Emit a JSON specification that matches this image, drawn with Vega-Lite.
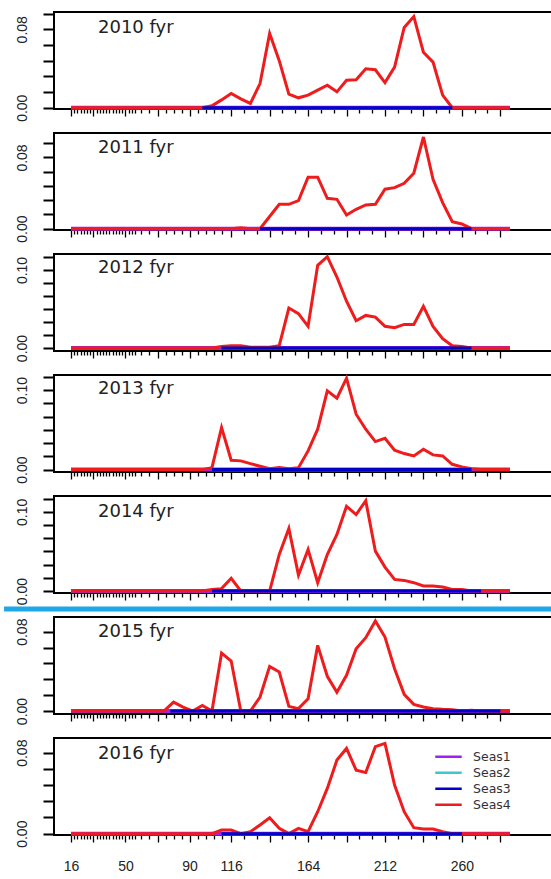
{
"$schema": "https://vega.github.io/schema/vega-lite/v6.json",
"padding": {"left": 0, "top": 9, "right": 0, "bottom": 5},
"background": "white",
"config": {"font": "Liberation Sans", "view": {"stroke": "#000", "strokeWidth": 2}, "axis": {"domain": false, "grid": false, "title": null},
 "title": {"anchor": "start", "offset": -26, "dx": 44, "fontSize": 18, "font": "DejaVu Sans", "fontWeight": "normal", "color": "#222", "baseline": "middle", "frame": "group"}},
"spacing": 24,
"bounds": "flush",
"resolve": {"scale": {"y": "independent"}, "legend": {"color": "independent"}},
"datasets": {
"d": [
{"year":2010,"seas":"Seas1","len":16,"val":0},{"year":2010,"seas":"Seas1","len":290,"val":0},
{"year":2011,"seas":"Seas1","len":16,"val":0},{"year":2011,"seas":"Seas1","len":290,"val":0},
{"year":2012,"seas":"Seas1","len":16,"val":0},{"year":2012,"seas":"Seas1","len":290,"val":0},
{"year":2013,"seas":"Seas1","len":16,"val":0},{"year":2013,"seas":"Seas1","len":290,"val":0},
{"year":2014,"seas":"Seas1","len":16,"val":0},{"year":2014,"seas":"Seas1","len":290,"val":0},
{"year":2015,"seas":"Seas1","len":16,"val":0},{"year":2015,"seas":"Seas1","len":290,"val":0},
{"year":2016,"seas":"Seas1","len":16,"val":0},{"year":2016,"seas":"Seas1","len":290,"val":0},
{"year":2010,"seas":"Seas3","len":98,"val":0},{"year":2010,"seas":"Seas3","len":254,"val":0},
{"year":2011,"seas":"Seas3","len":134,"val":0},{"year":2011,"seas":"Seas3","len":266,"val":0},
{"year":2012,"seas":"Seas3","len":110,"val":0},{"year":2012,"seas":"Seas3","len":266,"val":0},
{"year":2013,"seas":"Seas3","len":104,"val":0},{"year":2013,"seas":"Seas3","len":266,"val":0},
{"year":2014,"seas":"Seas3","len":104,"val":0},{"year":2014,"seas":"Seas3","len":272,"val":0},
{"year":2015,"seas":"Seas3","len":78,"val":0},{"year":2015,"seas":"Seas3","len":284,"val":0},
{"year":2016,"seas":"Seas3","len":110,"val":0},{"year":2016,"seas":"Seas3","len":260,"val":0},
{"year":2010,"seas":"Seas4","len":16,"val":0},{"year":2010,"seas":"Seas4","len":98,"val":0},{"year":2010,"seas":"Seas4","len":104,"val":0.002},{"year":2010,"seas":"Seas4","len":110,"val":0.008},{"year":2010,"seas":"Seas4","len":116,"val":0.0145},{"year":2010,"seas":"Seas4","len":122,"val":0.009},{"year":2010,"seas":"Seas4","len":128,"val":0.0044},{"year":2010,"seas":"Seas4","len":134,"val":0.0246},{"year":2010,"seas":"Seas4","len":140,"val":0.0758},{"year":2010,"seas":"Seas4","len":146,"val":0.048},{"year":2010,"seas":"Seas4","len":152,"val":0.0138},{"year":2010,"seas":"Seas4","len":158,"val":0.0101},{"year":2010,"seas":"Seas4","len":164,"val":0.0128},{"year":2010,"seas":"Seas4","len":170,"val":0.0179},{"year":2010,"seas":"Seas4","len":176,"val":0.0229},{"year":2010,"seas":"Seas4","len":182,"val":0.0162},{"year":2010,"seas":"Seas4","len":188,"val":0.028},{"year":2010,"seas":"Seas4","len":194,"val":0.0286},{"year":2010,"seas":"Seas4","len":200,"val":0.0397},{"year":2010,"seas":"Seas4","len":206,"val":0.0387},{"year":2010,"seas":"Seas4","len":212,"val":0.0256},{"year":2010,"seas":"Seas4","len":218,"val":0.0414},{"year":2010,"seas":"Seas4","len":224,"val":0.0819},{"year":2010,"seas":"Seas4","len":230,"val":0.093},{"year":2010,"seas":"Seas4","len":236,"val":0.0566},{"year":2010,"seas":"Seas4","len":242,"val":0.0465},{"year":2010,"seas":"Seas4","len":248,"val":0.0128},{"year":2010,"seas":"Seas4","len":254,"val":0},{"year":2010,"seas":"Seas4","len":290,"val":0},
{"year":2011,"seas":"Seas4","len":16,"val":0},{"year":2011,"seas":"Seas4","len":116,"val":0},{"year":2011,"seas":"Seas4","len":122,"val":0.001},{"year":2011,"seas":"Seas4","len":128,"val":0},{"year":2011,"seas":"Seas4","len":134,"val":0},{"year":2011,"seas":"Seas4","len":140,"val":0.0137},{"year":2011,"seas":"Seas4","len":146,"val":0.0274},{"year":2011,"seas":"Seas4","len":152,"val":0.0274},{"year":2011,"seas":"Seas4","len":158,"val":0.0315},{"year":2011,"seas":"Seas4","len":164,"val":0.0578},{"year":2011,"seas":"Seas4","len":170,"val":0.0578},{"year":2011,"seas":"Seas4","len":176,"val":0.0341},{"year":2011,"seas":"Seas4","len":182,"val":0.033},{"year":2011,"seas":"Seas4","len":188,"val":0.0154},{"year":2011,"seas":"Seas4","len":194,"val":0.0218},{"year":2011,"seas":"Seas4","len":200,"val":0.0266},{"year":2011,"seas":"Seas4","len":206,"val":0.0274},{"year":2011,"seas":"Seas4","len":212,"val":0.0443},{"year":2011,"seas":"Seas4","len":218,"val":0.0461},{"year":2011,"seas":"Seas4","len":224,"val":0.051},{"year":2011,"seas":"Seas4","len":230,"val":0.0623},{"year":2011,"seas":"Seas4","len":236,"val":0.103},{"year":2011,"seas":"Seas4","len":242,"val":0.0555},{"year":2011,"seas":"Seas4","len":248,"val":0.0293},{"year":2011,"seas":"Seas4","len":254,"val":0.0079},{"year":2011,"seas":"Seas4","len":260,"val":0.0053},{"year":2011,"seas":"Seas4","len":266,"val":0},{"year":2011,"seas":"Seas4","len":290,"val":0},
{"year":2012,"seas":"Seas4","len":16,"val":0},{"year":2012,"seas":"Seas4","len":104,"val":0},{"year":2012,"seas":"Seas4","len":110,"val":0.002},{"year":2012,"seas":"Seas4","len":116,"val":0.003},{"year":2012,"seas":"Seas4","len":122,"val":0.003},{"year":2012,"seas":"Seas4","len":128,"val":0.001},{"year":2012,"seas":"Seas4","len":134,"val":0.001},{"year":2012,"seas":"Seas4","len":140,"val":0.001},{"year":2012,"seas":"Seas4","len":146,"val":0.003},{"year":2012,"seas":"Seas4","len":152,"val":0.0512},{"year":2012,"seas":"Seas4","len":158,"val":0.044},{"year":2012,"seas":"Seas4","len":164,"val":0.0278},{"year":2012,"seas":"Seas4","len":170,"val":0.106},{"year":2012,"seas":"Seas4","len":176,"val":0.117},{"year":2012,"seas":"Seas4","len":182,"val":0.091},{"year":2012,"seas":"Seas4","len":188,"val":0.06},{"year":2012,"seas":"Seas4","len":194,"val":0.035},{"year":2012,"seas":"Seas4","len":200,"val":0.0418},{"year":2012,"seas":"Seas4","len":206,"val":0.0397},{"year":2012,"seas":"Seas4","len":212,"val":0.0278},{"year":2012,"seas":"Seas4","len":218,"val":0.026},{"year":2012,"seas":"Seas4","len":224,"val":0.0303},{"year":2012,"seas":"Seas4","len":230,"val":0.0303},{"year":2012,"seas":"Seas4","len":236,"val":0.0534},{"year":2012,"seas":"Seas4","len":242,"val":0.0278},{"year":2012,"seas":"Seas4","len":248,"val":0.012},{"year":2012,"seas":"Seas4","len":254,"val":0.003},{"year":2012,"seas":"Seas4","len":260,"val":0.002},{"year":2012,"seas":"Seas4","len":266,"val":0},{"year":2012,"seas":"Seas4","len":290,"val":0},
{"year":2013,"seas":"Seas4","len":16,"val":0},{"year":2013,"seas":"Seas4","len":98,"val":0},{"year":2013,"seas":"Seas4","len":104,"val":0.0025},{"year":2013,"seas":"Seas4","len":110,"val":0.053},{"year":2013,"seas":"Seas4","len":116,"val":0.0118},{"year":2013,"seas":"Seas4","len":122,"val":0.011},{"year":2013,"seas":"Seas4","len":128,"val":0.0076},{"year":2013,"seas":"Seas4","len":134,"val":0.0042},{"year":2013,"seas":"Seas4","len":140,"val":0.001},{"year":2013,"seas":"Seas4","len":146,"val":0.0025},{"year":2013,"seas":"Seas4","len":152,"val":0.001},{"year":2013,"seas":"Seas4","len":158,"val":0.0025},{"year":2013,"seas":"Seas4","len":164,"val":0.0235},{"year":2013,"seas":"Seas4","len":170,"val":0.0508},{"year":2013,"seas":"Seas4","len":176,"val":0.099},{"year":2013,"seas":"Seas4","len":182,"val":0.0899},{"year":2013,"seas":"Seas4","len":188,"val":0.115},{"year":2013,"seas":"Seas4","len":194,"val":0.0697},{"year":2013,"seas":"Seas4","len":200,"val":0.0508},{"year":2013,"seas":"Seas4","len":206,"val":0.0353},{"year":2013,"seas":"Seas4","len":212,"val":0.0395},{"year":2013,"seas":"Seas4","len":218,"val":0.0244},{"year":2013,"seas":"Seas4","len":224,"val":0.0202},{"year":2013,"seas":"Seas4","len":230,"val":0.0172},{"year":2013,"seas":"Seas4","len":236,"val":0.0256},{"year":2013,"seas":"Seas4","len":242,"val":0.0185},{"year":2013,"seas":"Seas4","len":248,"val":0.0172},{"year":2013,"seas":"Seas4","len":254,"val":0.0067},{"year":2013,"seas":"Seas4","len":260,"val":0.0034},{"year":2013,"seas":"Seas4","len":266,"val":0.001},{"year":2013,"seas":"Seas4","len":272,"val":0},{"year":2013,"seas":"Seas4","len":290,"val":0},
{"year":2014,"seas":"Seas4","len":16,"val":0},{"year":2014,"seas":"Seas4","len":98,"val":0},{"year":2014,"seas":"Seas4","len":104,"val":0.002},{"year":2014,"seas":"Seas4","len":110,"val":0.003},{"year":2014,"seas":"Seas4","len":116,"val":0.016},{"year":2014,"seas":"Seas4","len":122,"val":0},{"year":2014,"seas":"Seas4","len":140,"val":0},{"year":2014,"seas":"Seas4","len":146,"val":0.0462},{"year":2014,"seas":"Seas4","len":152,"val":0.079},{"year":2014,"seas":"Seas4","len":158,"val":0.0202},{"year":2014,"seas":"Seas4","len":164,"val":0.0525},{"year":2014,"seas":"Seas4","len":170,"val":0.0105},{"year":2014,"seas":"Seas4","len":176,"val":0.046},{"year":2014,"seas":"Seas4","len":182,"val":0.0714},{"year":2014,"seas":"Seas4","len":188,"val":0.107},{"year":2014,"seas":"Seas4","len":194,"val":0.0966},{"year":2014,"seas":"Seas4","len":200,"val":0.114},{"year":2014,"seas":"Seas4","len":206,"val":0.0504},{"year":2014,"seas":"Seas4","len":212,"val":0.0302},{"year":2014,"seas":"Seas4","len":218,"val":0.0147},{"year":2014,"seas":"Seas4","len":224,"val":0.0134},{"year":2014,"seas":"Seas4","len":230,"val":0.0105},{"year":2014,"seas":"Seas4","len":236,"val":0.0063},{"year":2014,"seas":"Seas4","len":242,"val":0.0063},{"year":2014,"seas":"Seas4","len":248,"val":0.005},{"year":2014,"seas":"Seas4","len":254,"val":0.002},{"year":2014,"seas":"Seas4","len":260,"val":0.002},{"year":2014,"seas":"Seas4","len":266,"val":0},{"year":2014,"seas":"Seas4","len":290,"val":0},
{"year":2015,"seas":"Seas4","len":16,"val":0},{"year":2015,"seas":"Seas4","len":74,"val":0},{"year":2015,"seas":"Seas4","len":80,"val":0.009},{"year":2015,"seas":"Seas4","len":86,"val":0.004},{"year":2015,"seas":"Seas4","len":92,"val":0},{"year":2015,"seas":"Seas4","len":98,"val":0.0057},{"year":2015,"seas":"Seas4","len":104,"val":0},{"year":2015,"seas":"Seas4","len":110,"val":0.0585},{"year":2015,"seas":"Seas4","len":116,"val":0.0504},{"year":2015,"seas":"Seas4","len":122,"val":0},{"year":2015,"seas":"Seas4","len":128,"val":0},{"year":2015,"seas":"Seas4","len":134,"val":0.0141},{"year":2015,"seas":"Seas4","len":140,"val":0.045},{"year":2015,"seas":"Seas4","len":146,"val":0.0393},{"year":2015,"seas":"Seas4","len":152,"val":0.0047},{"year":2015,"seas":"Seas4","len":158,"val":0.0024},{"year":2015,"seas":"Seas4","len":164,"val":0.0124},{"year":2015,"seas":"Seas4","len":170,"val":0.0662},{"year":2015,"seas":"Seas4","len":176,"val":0.035},{"year":2015,"seas":"Seas4","len":182,"val":0.019},{"year":2015,"seas":"Seas4","len":188,"val":0.036},{"year":2015,"seas":"Seas4","len":194,"val":0.0628},{"year":2015,"seas":"Seas4","len":200,"val":0.0739},{"year":2015,"seas":"Seas4","len":206,"val":0.0907},{"year":2015,"seas":"Seas4","len":212,"val":0.0746},{"year":2015,"seas":"Seas4","len":218,"val":0.0427},{"year":2015,"seas":"Seas4","len":224,"val":0.0168},{"year":2015,"seas":"Seas4","len":230,"val":0.0067},{"year":2015,"seas":"Seas4","len":236,"val":0.004},{"year":2015,"seas":"Seas4","len":242,"val":0.0024},{"year":2015,"seas":"Seas4","len":248,"val":0.0017},{"year":2015,"seas":"Seas4","len":254,"val":0.0013},{"year":2015,"seas":"Seas4","len":260,"val":0},{"year":2015,"seas":"Seas4","len":266,"val":0.0007},{"year":2015,"seas":"Seas4","len":272,"val":0},{"year":2015,"seas":"Seas4","len":290,"val":0},
{"year":2016,"seas":"Seas4","len":16,"val":0},{"year":2016,"seas":"Seas4","len":104,"val":0},{"year":2016,"seas":"Seas4","len":110,"val":0.0036},{"year":2016,"seas":"Seas4","len":116,"val":0.0036},{"year":2016,"seas":"Seas4","len":122,"val":0},{"year":2016,"seas":"Seas4","len":128,"val":0.002},{"year":2016,"seas":"Seas4","len":134,"val":0.0086},{"year":2016,"seas":"Seas4","len":140,"val":0.0158},{"year":2016,"seas":"Seas4","len":146,"val":0.0053},{"year":2016,"seas":"Seas4","len":152,"val":0},{"year":2016,"seas":"Seas4","len":158,"val":0.0053},{"year":2016,"seas":"Seas4","len":164,"val":0.002},{"year":2016,"seas":"Seas4","len":170,"val":0.0217},{"year":2016,"seas":"Seas4","len":176,"val":0.0447},{"year":2016,"seas":"Seas4","len":182,"val":0.0727},{"year":2016,"seas":"Seas4","len":188,"val":0.0842},{"year":2016,"seas":"Seas4","len":194,"val":0.0628},{"year":2016,"seas":"Seas4","len":200,"val":0.0605},{"year":2016,"seas":"Seas4","len":206,"val":0.0859},{"year":2016,"seas":"Seas4","len":212,"val":0.0892},{"year":2016,"seas":"Seas4","len":218,"val":0.048},{"year":2016,"seas":"Seas4","len":224,"val":0.0217},{"year":2016,"seas":"Seas4","len":230,"val":0.0059},{"year":2016,"seas":"Seas4","len":236,"val":0.0046},{"year":2016,"seas":"Seas4","len":242,"val":0.0046},{"year":2016,"seas":"Seas4","len":248,"val":0.002},{"year":2016,"seas":"Seas4","len":254,"val":0},{"year":2016,"seas":"Seas4","len":290,"val":0}
]},
"vconcat": [
{"width": 520, "height": 97, "title": "2010 fyr",
 "data": {"name": "d"}, "transform": [{"filter": "datum.year == 2010"}],
 "encoding": {
  "x": {"field": "len", "type": "quantitative", "scale": {"domain": [5.39, 330], "nice": false, "zero": false},
   "axis": {"values": [16,18,20,22,24,26,28,30,32,34,36,38,40,42,44,46,48,50,52,54,56,60,65,70,75,80,85,90,95,100,105,110,116,124,132,140,148,156,164,172,180,188,196,204,212,220,228,236,244,252,260,268,276,284], "labels": false, "tickColor": "#000", "tickWidth": 1.3, "tickSize": {"condition": {"test": "indexof([16,30,50,70,90,116,140,164,188,212,236,260,284], datum.value) >= 0", "value": 7}, "value": 4}}},
  "y": {"field": "val", "type": "quantitative", "scale": {"domain": [-0.0013, 0.0976], "nice": false, "zero": false},
   "axis": {"values": [0, 0.016, 0.032, 0.048, 0.064, 0.08, 0.096], "labelExpr": "datum.value == 0 || datum.value == 0.08 ? format(datum.value, '.2f') : ''", "labelAngle": 270, "labelAlign": "center", "labelBaseline": "bottom", "labelFontSize": 14, "labelPadding": 14, "labelColor": "#222", "labelFlush": false, "labelOverlap": false, "tickSize": 11, "tickWidth": 2, "tickColor": "#000"}},
  "color": {"field": "seas", "type": "nominal", "scale": {"domain": ["Seas1","Seas2","Seas3","Seas4"], "range": ["#a020f0","#3cc8c8","#0000c8","#ee1c1c"]}, "legend": null}
 },
 "layer": [
  {"transform": [{"filter": "datum.seas == 'Seas1'"}], "mark": {"type": "line", "strokeWidth": 4}},
  {"transform": [{"filter": "datum.seas == 'Seas4'"}], "mark": {"type": "line", "strokeWidth": 3}},
  {"transform": [{"filter": "datum.seas == 'Seas3'"}], "mark": {"type": "line", "strokeWidth": 3}}
 ]},
{"width": 520, "height": 97, "title": "2011 fyr",
 "data": {"name": "d"}, "transform": [{"filter": "datum.year == 2011"}],
 "encoding": {
  "x": {"field": "len", "type": "quantitative", "scale": {"domain": [5.39, 330], "nice": false, "zero": false},
   "axis": {"values": [16,18,20,22,24,26,28,30,32,34,36,38,40,42,44,46,48,50,52,54,56,60,65,70,75,80,85,90,95,100,105,110,116,124,132,140,148,156,164,172,180,188,196,204,212,220,228,236,244,252,260,268,276,284], "labels": false, "tickColor": "#000", "tickWidth": 1.3, "tickSize": {"condition": {"test": "indexof([16,30,50,70,90,116,140,164,188,212,236,260,284], datum.value) >= 0", "value": 7}, "value": 4}}},
  "y": {"field": "val", "type": "quantitative", "scale": {"domain": [-0.0015, 0.1075], "nice": false, "zero": false},
   "axis": {"values": [0, 0.016, 0.032, 0.048, 0.064, 0.08, 0.096], "labelExpr": "datum.value == 0 || datum.value == 0.08 ? format(datum.value, '.2f') : ''", "labelAngle": 270, "labelAlign": "center", "labelBaseline": "bottom", "labelFontSize": 14, "labelPadding": 14, "labelColor": "#222", "labelFlush": false, "labelOverlap": false, "tickSize": 11, "tickWidth": 2, "tickColor": "#000"}},
  "color": {"field": "seas", "type": "nominal", "scale": {"domain": ["Seas1","Seas2","Seas3","Seas4"], "range": ["#a020f0","#3cc8c8","#0000c8","#ee1c1c"]}, "legend": null}
 },
 "layer": [
  {"transform": [{"filter": "datum.seas == 'Seas1'"}], "mark": {"type": "line", "strokeWidth": 4}},
  {"transform": [{"filter": "datum.seas == 'Seas4'"}], "mark": {"type": "line", "strokeWidth": 3}},
  {"transform": [{"filter": "datum.seas == 'Seas3'"}], "mark": {"type": "line", "strokeWidth": 3}}
 ]},
{"width": 520, "height": 97, "title": "2012 fyr",
 "data": {"name": "d"}, "transform": [{"filter": "datum.year == 2012"}],
 "encoding": {
  "x": {"field": "len", "type": "quantitative", "scale": {"domain": [5.39, 330], "nice": false, "zero": false},
   "axis": {"values": [16,18,20,22,24,26,28,30,32,34,36,38,40,42,44,46,48,50,52,54,56,60,65,70,75,80,85,90,95,100,105,110,116,124,132,140,148,156,164,172,180,188,196,204,212,220,228,236,244,252,260,268,276,284], "labels": false, "tickColor": "#000", "tickWidth": 1.3, "tickSize": {"condition": {"test": "indexof([16,30,50,70,90,116,140,164,188,212,236,260,284], datum.value) >= 0", "value": 7}, "value": 4}}},
  "y": {"field": "val", "type": "quantitative", "scale": {"domain": [-0.0038, 0.1205], "nice": false, "zero": false},
   "axis": {"values": [0, 0.016667, 0.033333, 0.05, 0.066667, 0.083333, 0.1, 0.116667], "labelExpr": "datum.value == 0 || datum.value == 0.1 ? format(datum.value, '.2f') : ''", "labelAngle": 270, "labelAlign": "center", "labelBaseline": "bottom", "labelFontSize": 14, "labelPadding": 14, "labelColor": "#222", "labelFlush": false, "labelOverlap": false, "tickSize": 11, "tickWidth": 2, "tickColor": "#000"}},
  "color": {"field": "seas", "type": "nominal", "scale": {"domain": ["Seas1","Seas2","Seas3","Seas4"], "range": ["#a020f0","#3cc8c8","#0000c8","#ee1c1c"]}, "legend": null}
 },
 "layer": [
  {"transform": [{"filter": "datum.seas == 'Seas1'"}], "mark": {"type": "line", "strokeWidth": 4}},
  {"transform": [{"filter": "datum.seas == 'Seas4'"}], "mark": {"type": "line", "strokeWidth": 3}},
  {"transform": [{"filter": "datum.seas == 'Seas3'"}], "mark": {"type": "line", "strokeWidth": 3}}
 ]},
{"width": 520, "height": 97, "title": "2013 fyr",
 "data": {"name": "d"}, "transform": [{"filter": "datum.year == 2013"}],
 "encoding": {
  "x": {"field": "len", "type": "quantitative", "scale": {"domain": [5.39, 330], "nice": false, "zero": false},
   "axis": {"values": [16,18,20,22,24,26,28,30,32,34,36,38,40,42,44,46,48,50,52,54,56,60,65,70,75,80,85,90,95,100,105,110,116,124,132,140,148,156,164,172,180,188,196,204,212,220,228,236,244,252,260,268,276,284], "labels": false, "tickColor": "#000", "tickWidth": 1.3, "tickSize": {"condition": {"test": "indexof([16,30,50,70,90,116,140,164,188,212,236,260,284], datum.value) >= 0", "value": 7}, "value": 4}}},
  "y": {"field": "val", "type": "quantitative", "scale": {"domain": [-0.003, 0.119], "nice": false, "zero": false},
   "axis": {"values": [0, 0.016667, 0.033333, 0.05, 0.066667, 0.083333, 0.1, 0.116667], "labelExpr": "datum.value == 0 || datum.value == 0.1 ? format(datum.value, '.2f') : ''", "labelAngle": 270, "labelAlign": "center", "labelBaseline": "bottom", "labelFontSize": 14, "labelPadding": 14, "labelColor": "#222", "labelFlush": false, "labelOverlap": false, "tickSize": 11, "tickWidth": 2, "tickColor": "#000"}},
  "color": {"field": "seas", "type": "nominal", "scale": {"domain": ["Seas1","Seas2","Seas3","Seas4"], "range": ["#a020f0","#3cc8c8","#0000c8","#ee1c1c"]}, "legend": null}
 },
 "layer": [
  {"transform": [{"filter": "datum.seas == 'Seas1'"}], "mark": {"type": "line", "strokeWidth": 4}},
  {"transform": [{"filter": "datum.seas == 'Seas4'"}], "mark": {"type": "line", "strokeWidth": 3}},
  {"transform": [{"filter": "datum.seas == 'Seas3'"}], "mark": {"type": "line", "strokeWidth": 3}}
 ]},
{"width": 520, "height": 97, "title": "2014 fyr",
 "layer": [
  {"data": {"name": "d"}, "transform": [{"filter": "datum.year == 2014 && datum.seas == 'Seas1'"}], "mark": {"type": "line", "strokeWidth": 4},
   "encoding": {
    "x": {"field": "len", "type": "quantitative", "scale": {"domain": [5.39, 330], "nice": false, "zero": false},
     "axis": {"values": [16,18,20,22,24,26,28,30,32,34,36,38,40,42,44,46,48,50,52,54,56,60,65,70,75,80,85,90,95,100,105,110,116,124,132,140,148,156,164,172,180,188,196,204,212,220,228,236,244,252,260,268,276,284], "labels": false, "tickColor": "#000", "tickWidth": 1.3, "tickSize": {"condition": {"test": "indexof([16,30,50,70,90,116,140,164,188,212,236,260,284], datum.value) >= 0", "value": 7}, "value": 4}}},
    "y": {"field": "val", "type": "quantitative", "scale": {"domain": [-0.0025, 0.12], "nice": false, "zero": false},
     "axis": {"values": [0, 0.016667, 0.033333, 0.05, 0.066667, 0.083333, 0.1, 0.116667], "labelExpr": "datum.value == 0 || datum.value == 0.1 ? format(datum.value, '.2f') : ''", "labelAngle": 270, "labelAlign": "center", "labelBaseline": "bottom", "labelFontSize": 14, "labelPadding": 14, "labelColor": "#222", "labelFlush": false, "labelOverlap": false, "tickSize": 11, "tickWidth": 2, "tickColor": "#000"}},
    "color": {"field": "seas", "type": "nominal", "scale": {"domain": ["Seas1","Seas2","Seas3","Seas4"], "range": ["#a020f0","#3cc8c8","#0000c8","#ee1c1c"]}, "legend": null}}},
  {"data": {"name": "d"}, "transform": [{"filter": "datum.year == 2014 && datum.seas == 'Seas4'"}], "mark": {"type": "line", "strokeWidth": 3},
   "encoding": {
    "x": {"field": "len", "type": "quantitative", "scale": {"domain": [5.39, 330], "nice": false, "zero": false},
     "axis": {"values": [16,18,20,22,24,26,28,30,32,34,36,38,40,42,44,46,48,50,52,54,56,60,65,70,75,80,85,90,95,100,105,110,116,124,132,140,148,156,164,172,180,188,196,204,212,220,228,236,244,252,260,268,276,284], "labels": false, "tickColor": "#000", "tickWidth": 1.3, "tickSize": {"condition": {"test": "indexof([16,30,50,70,90,116,140,164,188,212,236,260,284], datum.value) >= 0", "value": 7}, "value": 4}}},
    "y": {"field": "val", "type": "quantitative", "scale": {"domain": [-0.0025, 0.12], "nice": false, "zero": false},
     "axis": {"values": [0, 0.016667, 0.033333, 0.05, 0.066667, 0.083333, 0.1, 0.116667], "labelExpr": "datum.value == 0 || datum.value == 0.1 ? format(datum.value, '.2f') : ''", "labelAngle": 270, "labelAlign": "center", "labelBaseline": "bottom", "labelFontSize": 14, "labelPadding": 14, "labelColor": "#222", "labelFlush": false, "labelOverlap": false, "tickSize": 11, "tickWidth": 2, "tickColor": "#000"}},
    "color": {"field": "seas", "type": "nominal", "scale": {"domain": ["Seas1","Seas2","Seas3","Seas4"], "range": ["#a020f0","#3cc8c8","#0000c8","#ee1c1c"]}, "legend": null}}},
  {"data": {"name": "d"}, "transform": [{"filter": "datum.year == 2014 && datum.seas == 'Seas3'"}], "mark": {"type": "line", "strokeWidth": 3},
   "encoding": {
    "x": {"field": "len", "type": "quantitative", "scale": {"domain": [5.39, 330], "nice": false, "zero": false},
     "axis": {"values": [16,18,20,22,24,26,28,30,32,34,36,38,40,42,44,46,48,50,52,54,56,60,65,70,75,80,85,90,95,100,105,110,116,124,132,140,148,156,164,172,180,188,196,204,212,220,228,236,244,252,260,268,276,284], "labels": false, "tickColor": "#000", "tickWidth": 1.3, "tickSize": {"condition": {"test": "indexof([16,30,50,70,90,116,140,164,188,212,236,260,284], datum.value) >= 0", "value": 7}, "value": 4}}},
    "y": {"field": "val", "type": "quantitative", "scale": {"domain": [-0.0025, 0.12], "nice": false, "zero": false},
     "axis": {"values": [0, 0.016667, 0.033333, 0.05, 0.066667, 0.083333, 0.1, 0.116667], "labelExpr": "datum.value == 0 || datum.value == 0.1 ? format(datum.value, '.2f') : ''", "labelAngle": 270, "labelAlign": "center", "labelBaseline": "bottom", "labelFontSize": 14, "labelPadding": 14, "labelColor": "#222", "labelFlush": false, "labelOverlap": false, "tickSize": 11, "tickWidth": 2, "tickColor": "#000"}},
    "color": {"field": "seas", "type": "nominal", "scale": {"domain": ["Seas1","Seas2","Seas3","Seas4"], "range": ["#a020f0","#3cc8c8","#0000c8","#ee1c1c"]}, "legend": null}}},
  {"data": {"values": [{}]}, "mark": {"type": "rule", "clip": false, "color": "#1ea8e8", "strokeWidth": 5, "strokeCap": "butt"},
   "encoding": {
    "x": {"datum": -25.8, "type": "quantitative", "scale": {"domain": [5.39, 330], "nice": false, "zero": false},
     "axis": {"values": [16,18,20,22,24,26,28,30,32,34,36,38,40,42,44,46,48,50,52,54,56,60,65,70,75,80,85,90,95,100,105,110,116,124,132,140,148,156,164,172,180,188,196,204,212,220,228,236,244,252,260,268,276,284], "labels": false, "tickColor": "#000", "tickWidth": 1.3, "tickSize": {"condition": {"test": "indexof([16,30,50,70,90,116,140,164,188,212,236,260,284], datum.value) >= 0", "value": 7}, "value": 4}}},
    "x2": {"datum": 400},
    "y": {"datum": -0.0227, "type": "quantitative", "scale": {"domain": [-0.0025, 0.12], "nice": false, "zero": false},
     "axis": {"values": [0, 0.016667, 0.033333, 0.05, 0.066667, 0.083333, 0.1, 0.116667], "labelExpr": "datum.value == 0 || datum.value == 0.1 ? format(datum.value, '.2f') : ''", "labelAngle": 270, "labelAlign": "center", "labelBaseline": "bottom", "labelFontSize": 14, "labelPadding": 14, "labelColor": "#222", "labelFlush": false, "labelOverlap": false, "tickSize": 11, "tickWidth": 2, "tickColor": "#000"}}}}
 ]},
{"width": 520, "height": 97, "title": "2015 fyr",
 "data": {"name": "d"}, "transform": [{"filter": "datum.year == 2015"}],
 "encoding": {
  "x": {"field": "len", "type": "quantitative", "scale": {"domain": [5.39, 330], "nice": false, "zero": false},
   "axis": {"values": [16,18,20,22,24,26,28,30,32,34,36,38,40,42,44,46,48,50,52,54,56,60,65,70,75,80,85,90,95,100,105,110,116,124,132,140,148,156,164,172,180,188,196,204,212,220,228,236,244,252,260,268,276,284], "labels": false, "tickColor": "#000", "tickWidth": 1.3, "tickSize": {"condition": {"test": "indexof([16,30,50,70,90,116,140,164,188,212,236,260,284], datum.value) >= 0", "value": 7}, "value": 4}}},
  "y": {"field": "val", "type": "quantitative", "scale": {"domain": [-0.003, 0.0948], "nice": false, "zero": false},
   "axis": {"values": [0, 0.016, 0.032, 0.048, 0.064, 0.08], "labelExpr": "datum.value == 0 || datum.value == 0.08 ? format(datum.value, '.2f') : ''", "labelAngle": 270, "labelAlign": "center", "labelBaseline": "bottom", "labelFontSize": 14, "labelPadding": 14, "labelColor": "#222", "labelFlush": false, "labelOverlap": false, "tickSize": 11, "tickWidth": 2, "tickColor": "#000"}},
  "color": {"field": "seas", "type": "nominal", "scale": {"domain": ["Seas1","Seas2","Seas3","Seas4"], "range": ["#a020f0","#3cc8c8","#0000c8","#ee1c1c"]}, "legend": null}
 },
 "layer": [
  {"transform": [{"filter": "datum.seas == 'Seas1'"}], "mark": {"type": "line", "strokeWidth": 4}},
  {"transform": [{"filter": "datum.seas == 'Seas4'"}], "mark": {"type": "line", "strokeWidth": 3}},
  {"transform": [{"filter": "datum.seas == 'Seas3'"}], "mark": {"type": "line", "strokeWidth": 3}}
 ]},
{"width": 520, "height": 97, "title": "2016 fyr",
 "data": {"name": "d"}, "transform": [{"filter": "datum.year == 2016"}],
 "encoding": {
  "x": {"field": "len", "type": "quantitative", "scale": {"domain": [5.39, 330], "nice": false, "zero": false},
   "axis": {"values": [16,18,20,22,24,26,28,30,32,34,36,38,40,42,44,46,48,50,52,54,56,60,65,70,75,80,85,90,95,100,105,110,116,124,132,140,148,156,164,172,180,188,196,204,212,220,228,236,244,252,260,268,276,284], "labelExpr": "indexof([16,50,90,116,164,212,260], datum.value) >= 0 ? datum.label : ''", "labelFontSize": 14, "labelColor": "#222", "labelPadding": 17, "labelFlush": false, "labelOverlap": false, "tickColor": "#000", "tickWidth": 1.3, "tickSize": {"condition": {"test": "indexof([16,30,50,70,90,116,140,164,188,212,236,260,284], datum.value) >= 0", "value": 7}, "value": 4}}},
  "y": {"field": "val", "type": "quantitative", "scale": {"domain": [-0.0013, 0.0945], "nice": false, "zero": false},
   "axis": {"values": [0, 0.016, 0.032, 0.048, 0.064, 0.08], "labelExpr": "datum.value == 0 || datum.value == 0.08 ? format(datum.value, '.2f') : ''", "labelAngle": 270, "labelAlign": "center", "labelBaseline": "bottom", "labelFontSize": 14, "labelPadding": 14, "labelColor": "#222", "labelFlush": false, "labelOverlap": false, "tickSize": 11, "tickWidth": 2, "tickColor": "#000"}},
  "color": {"field": "seas", "type": "nominal", "scale": {"domain": ["Seas1","Seas2","Seas3","Seas4"], "range": ["#a020f0","#3cc8c8","#0000c8","#ee1c1c"]}, "legend": {"orient": "none", "legendX": 380, "legendY": 11, "title": null, "symbolType": "stroke", "symbolSize": 700, "symbolStrokeWidth": 2.5, "labelFontSize": 12.5, "labelFont": "DejaVu Sans", "labelColor": "#333", "clipHeight": 15.5, "rowPadding": 0, "labelOffset": 10}}
 },
 "layer": [
  {"transform": [{"filter": "datum.seas == 'Seas1'"}], "mark": {"type": "line", "strokeWidth": 4}},
  {"transform": [{"filter": "datum.seas == 'Seas4'"}], "mark": {"type": "line", "strokeWidth": 3}},
  {"transform": [{"filter": "datum.seas == 'Seas3'"}], "mark": {"type": "line", "strokeWidth": 3}}
 ]}
]
}
